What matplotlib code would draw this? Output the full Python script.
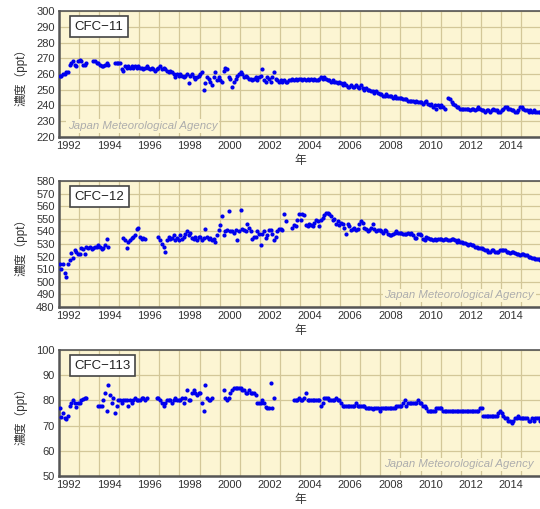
import numpy as np
import matplotlib
matplotlib.use("Agg")
import matplotlib.pyplot as plt

nan = np.nan

# ---- data: monthly values, 1992..2015 (12 per year, NaN = no data) ----
years = list(range(1992, 2016))

cfc11 = [
    [259, 259, 260, 260, 261, 261, 266, 267, 268, 266, 265, 268],  # 1992
    [269, 268, 266, 266, 267, nan, nan, nan, 268, 268, 267, 267],  # 1993
    [266, 265, 265, 266, 267, 266, nan, nan, nan, 267, 267, 267],  # 1994
    [267, 263, 262, 265, 264, 265, 264, 265, 264, 265, 264, 265],  # 1995
    [264, 264, 263, 264, 265, 264, 263, 264, 263, 262, 263, 264],  # 1996
    [265, 263, 264, 263, 262, 261, 262, 261, 260, 258, 260, 259],  # 1997
    [260, 259, 258, 259, 260, 254, 259, 260, 258, 257, 258, 259],  # 1998
    [260, 261, 250, 254, 258, 257, 255, 253, 258, 261, 256, 258],  # 1999
    [256, 255, 262, 264, 263, 258, 257, 252, 255, 257, 259, 260],  # 2000
    [261, 260, 258, 259, 258, 257, 257, 256, 257, 258, 256, 258],  # 2001
    [259, 263, 256, 255, 258, 257, 255, 258, 261, 257, 256, 255],  # 2002
    [256, 255, 256, 255, 255, 256, 256, 257, 256, 257, 256, 257],  # 2003
    [257, 256, 257, 256, 257, 256, 257, 256, 257, 256, 256, 257],  # 2004
    [258, 257, 258, 257, 256, 256, 255, 256, 255, 255, 254, 255],  # 2005
    [254, 253, 254, 253, 252, 252, 253, 252, 252, 253, 252, 251],  # 2006
    [253, 251, 250, 251, 250, 250, 249, 249, 248, 249, 248, 247],  # 2007
    [247, 246, 246, 247, 246, 246, 246, 245, 246, 245, 245, 245],  # 2008
    [245, 244, 244, 244, 243, 243, 243, 243, 242, 243, 242, 242],  # 2009
    [242, 241, 242, 243, 241, 240, 241, 239, 240, 238, 240, 239],  # 2010
    [240, 239, 238, nan, 245, 244, 242, 241, 240, 239, 239, 238],  # 2011
    [238, 238, 238, 238, 238, 237, 238, 238, 237, 238, 239, 238],  # 2012
    [237, 237, 236, 237, 237, 236, 237, 238, 237, 237, 236, 236],  # 2013
    [237, 238, 239, 239, 238, 238, 237, 237, 236, 236, 237, 239],  # 2014
    [239, 238, 237, 237, 236, 237, 236, 237, 236, 236, 236, 236],  # 2015
]

cfc12 = [
    [514, 510, 514, 507, 504, 514, 517, 523, 519, 525, 524, 522],  # 1992
    [522, 527, 526, 522, 528, 527, 528, 526, 527, 528, 528, 529],  # 1993
    [528, 526, 527, 529, 534, 528, nan, nan, nan, nan, nan, nan],  # 1994
    [nan, nan, 535, 533, 527, 532, 533, 535, 536, 537, 542, 543],  # 1995
    [536, 534, 535, 534, nan, nan, nan, nan, nan, nan, nan, 536],  # 1996
    [533, 530, 528, 524, 533, 536, 534, 535, 537, 533, 535, 533],  # 1997
    [537, 534, 536, 538, 540, 537, 539, 535, 534, 536, 533, 536],  # 1998
    [536, 533, 535, 542, 536, 534, 535, 533, 534, 532, 537, 541],  # 1999
    [545, 552, 537, 540, 541, 556, 540, 540, 539, 541, 533, 540],  # 2000
    [557, 542, 541, 540, 546, 543, 540, 534, 536, 536, 540, 538],  # 2001
    [529, 538, 540, 535, 537, 541, 541, 538, 533, 536, 540, 542],  # 2002
    [542, 541, 554, 548, nan, nan, nan, 543, 545, 544, 549, 554],  # 2003
    [549, 554, 553, 545, 544, 546, 545, 544, 547, 549, 548, 544],  # 2004
    [549, 551, 553, 555, 555, 554, 552, 549, 550, 546, 548, 545],  # 2005
    [547, 546, 543, 538, 546, 544, 541, 542, 543, 541, 542, 546],  # 2006
    [548, 547, 543, 542, 540, 541, 543, 546, 542, 540, 541, 541],  # 2007
    [540, 539, 541, 540, 538, 537, 537, 538, 539, 540, 539, 539],  # 2008
    [539, 538, 538, 538, 539, 538, 539, 537, 535, 535, 538, 538],  # 2009
    [537, 534, 533, 536, 535, 534, 534, 533, 534, 533, 534, 534],  # 2010
    [534, 533, 534, 534, 533, 533, 534, 534, 533, 532, 533, 532],  # 2011
    [532, 531, 531, 530, 529, 530, 529, 529, 528, 528, 527, 527],  # 2012
    [527, 526, 525, 525, 524, 524, 525, 525, 524, 524, 524, 525],  # 2013
    [525, 525, 525, 524, 524, 523, 524, 524, 523, 522, 522, 521],  # 2014
    [522, 522, 521, 521, 520, 520, 519, 519, 518, 518, 518, 517],  # 2015
]

cfc113 = [
    [77, 73.5, 75, 73, 72.5, 74, 78, 79, 80, 79, 77.5, 79],        # 1992
    [79, 80, 80.5, 81, 81, nan, nan, nan, nan, nan, nan, 78],       # 1993
    [78, 78, 80, 83, 76, 86, 82, 79, 81, 75, 78, 80],               # 1994
    [80, 79, 80, 80, 80, 78, 80, 79, 80, 81, 80, 80],               # 1995
    [80, 81, 81, 80, 81, nan, nan, nan, nan, nan, 81, 81],          # 1996
    [80, 79, 78, 79, 80, 80, 80, 79, 80, 81, 80, 80],               # 1997
    [80, 81, 79, 81, 84, 80, 80, 83, 84, 83, 82, 83],               # 1998
    [83, 79, 76, 86, 81, 80, 80, 81, nan, nan, nan, nan],           # 1999
    [nan, nan, 84, 81, 80, 81, 83, 84, 85, 85, 85, 85],             # 2000
    [85, 84, 84, 83, 83, 84, 83, 83, 83, 82, 79, 79],               # 2001
    [79, 80, 79, 77.5, 77, 77, 87, 77, 81, nan, nan, nan],          # 2002
    [nan, nan, nan, nan, nan, nan, nan, nan, 80, 80, 80, 81],       # 2003
    [80, 80, 81, 83, 80, 80, 80, 80, 80, 80, 80, 80],               # 2004
    [78, 79, 81, 81, 81, 80, 80, 80, 80, 81, 80, 80],               # 2005
    [79, 78, 78, 78, 78, 78, 78, 78, 78, 79, 78, 78],               # 2006
    [78, 78, 78, 77, 77, 77, 77, 76.5, 77, 77, 77, 76],             # 2007
    [77, 77, 77, 77, 77, 77, 77, 77, 77, 78, 78, 78],               # 2008
    [78, 79, 80, 78, 79, 79, 79, 79, 79, 79, 80, 79],               # 2009
    [79, 78, 78, 77, 76, 76, 76, 76, 76, 77, 77, 77],               # 2010
    [77, 76, 76, 76, 76, 76, 76, 76, 76, 76, 76, 76],               # 2011
    [76, 76, 76, 76, 76, 76, 76, 76, 76, 76, 76, 77],               # 2012
    [77, 74, 74, 74, 74, 74, 74, 74, 74, 74, 75, 76],               # 2013
    [75, 74, 73, 73, 72, 72, 71, 72, 73, 73, 74, 73],               # 2014
    [73, 73, 73, 73, 72, 72, 73, 72, 73, 73, 73, 72],               # 2015
]

names = ["CFC\u221211", "CFC\u221212", "CFC\u2212113"]
ylims = [(220, 300), (480, 580), (50, 100)]
tick_years = list(range(1992, 2016, 2))
ylabel = "濃度（ppt）"
xlabel = "年"
credit = "Japan Meteorological Agency"
credit_pos = ["left", "right", "right"]

# ---- styling ----
BG = "#fcf5d3"
GRID = "#d3c798"
SPINE = "#555555"
DOT = "#0000ee"

plt.rcParams["font.family"] = ["Liberation Sans", "Noto Sans CJK JP", "DejaVu Sans"]

fig = plt.figure(figsize=(5.40, 5.09), dpi=100)

boxes = [(0.109, 0.731, 0.893, 0.247),
         (0.109, 0.397, 0.893, 0.247),
         (0.109, 0.065, 0.893, 0.247)]

series = [cfc11, cfc12, cfc113]

for i, (data, box) in enumerate(zip(series, boxes)):
    ax = fig.add_axes(box)
    ax.set_facecolor(BG)
    t = []
    v = []
    for yi, yr in enumerate(years):
        for m in range(12):
            t.append(yr + (m + 0.5) / 12.0)
            v.append(data[yi][m])
    t = np.array(t)
    v = np.array(v, dtype=float)
    ax.plot(t, v, linestyle="none", marker="o", markersize=3.0,
            color=DOT, markeredgewidth=0, zorder=3)

    ax.set_xlim(1992, 2016)
    ax.set_ylim(*ylims[i])
    lo, hi = ylims[i]
    ax.set_yticks(np.arange(lo, hi + 1, 10))
    ax.set_xticks(np.arange(1992, 2017, 1))
    ax.set_xticklabels([])
    ax.set_xticks([y + 0.5 for y in tick_years], minor=True)
    ax.set_xticklabels([str(y) for y in tick_years], minor=True)
    ax.tick_params(axis="x", which="both", length=0, pad=3, labelsize=8,
                   colors="#333333")
    ax.tick_params(axis="y", length=0, pad=3, labelsize=8, colors="#333333")
    ax.grid(True, which="major", color=GRID, linewidth=0.9, zorder=0)
    ax.set_axisbelow(True)

    for s in ["left", "bottom"]:
        ax.spines[s].set_color(SPINE)
        ax.spines[s].set_linewidth(1.8)
    ax.spines["top"].set_color(SPINE)
    ax.spines["top"].set_linewidth(1.2)
    ax.spines["right"].set_visible(False)

    ax.set_ylabel(ylabel, fontsize=8.5, labelpad=6, color="#333333")
    ax.set_xlabel(xlabel, fontsize=8.5, labelpad=3, color="#333333")

    ax.text(0.032, 0.925, names[i], transform=ax.transAxes, fontsize=9.5,
            ha="left", va="top", color="#222222", zorder=5,
            bbox=dict(boxstyle="square,pad=0.35", facecolor="white",
                      edgecolor="#444444", linewidth=1.2))

    if credit_pos[i] == "left":
        ax.text(0.019, 0.087, credit, transform=ax.transAxes, fontsize=8.2,
                style="italic", color="#adadad", ha="left", va="center", zorder=2,
                bbox=dict(boxstyle="square,pad=0.15", facecolor=BG, edgecolor="none"))
    else:
        ax.text(0.985, 0.093, credit, transform=ax.transAxes, fontsize=8.2,
                style="italic", color="#adadad", ha="right", va="center", zorder=2,
                bbox=dict(boxstyle="square,pad=0.15", facecolor=BG, edgecolor="none"))

fig.savefig("out.png", dpi=100, facecolor="white")
